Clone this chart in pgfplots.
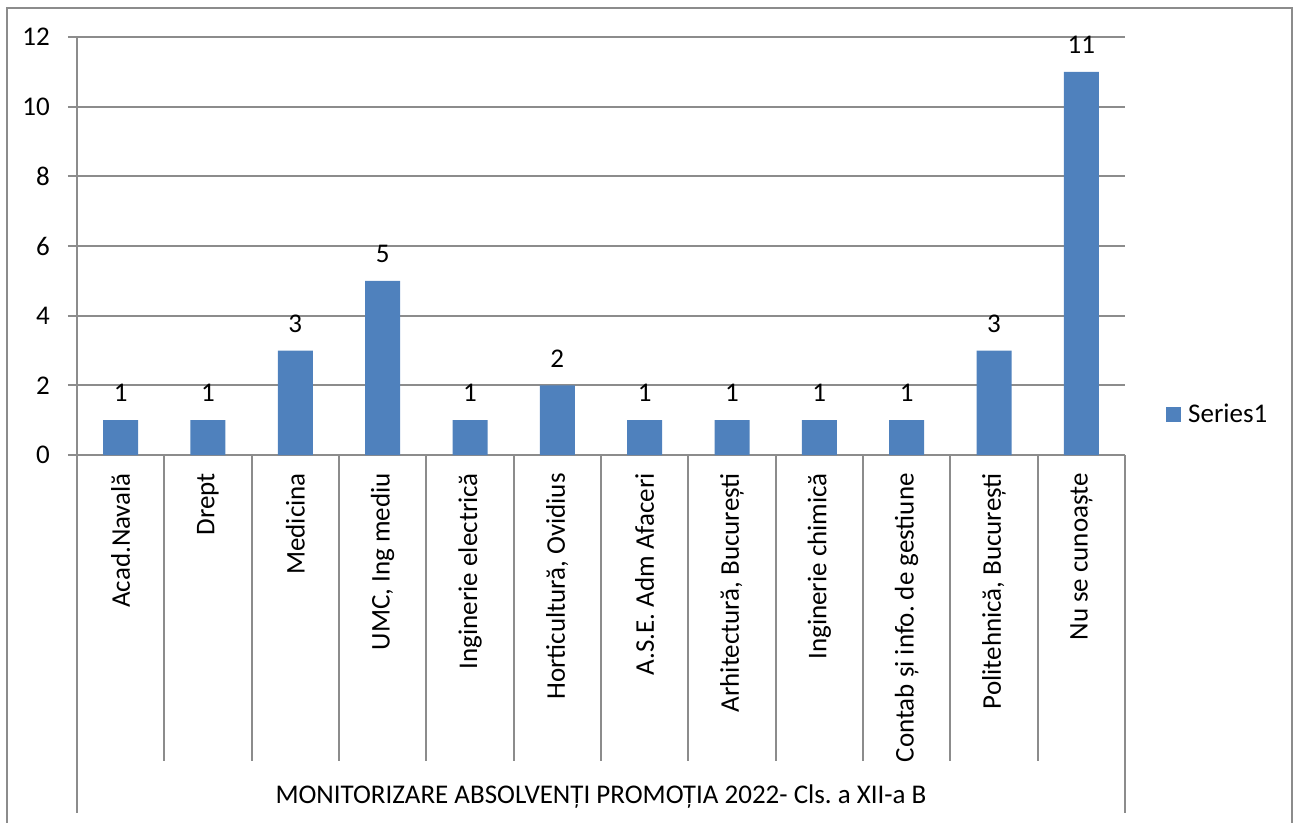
\documentclass[border=0pt]{standalone}
\usepackage{pgfplots}
\pgfplotsset{compat=1.18}
\usepackage{fontspec}
\setmainfont{Carlito}
\definecolor{barblue}{HTML}{4F81BD}
\definecolor{linegray}{RGB}{140,140,140}

\begin{document}
\frenchspacing
\begin{tikzpicture}[font=\fontsize{27bp}{32bp}\selectfont]
\begin{axis}[
  name=ax, at={(0,0)}, anchor=south west,
  scale only axis, width=1048bp, height=418bp,
  xmin=-0.5, xmax=11.5, ymin=0, ymax=12,
  ytick={0,2,...,12},
  xtick={0,...,11},
  xticklabels={Acad.Navală, Drept, Medicina, {UMC, Ing mediu}, Inginerie electrică,
    {Horticultură, Ovidius}, A.S.E. Adm Afaceri, {Arhitectură, București},
    Inginerie chimică, Contab și info. de gestiune, {Politehnică, București}, Nu se cunoaște},
  axis x line*=bottom, axis y line*=left,
  axis line style={linegray, line width=1.8bp, -},
  ymajorgrids, grid style={linegray, line width=1.8bp},
  tick align=outside, major tick length=9bp,
  xtick style={draw=none},
  ytick style={linegray, line width=1.8bp},
  yticklabel style={anchor=east, inner sep=0pt, xshift=-18bp},
  xticklabel style={rotate=90, anchor=east, inner sep=0pt},
  xticklabel shift=9bp,
  /pgf/number format/assume math mode=true,
  ybar, bar width=35bp,
  nodes near coords,
  every node near coord/.append style={anchor=center, yshift=27bp},
  clip=false,
  legend style={at={(axis description cs:1.0391,0.098)}, anchor=west,
    draw=none, fill=none, inner sep=0pt, nodes={inner sep=0pt}},
  legend image code/.code={\fill[barblue] (0bp,-7.5bp) rectangle (15bp,7.5bp); \path (22bp,0);},
]
\addplot[fill=barblue, draw=none] coordinates {
  (0,1) (1,1) (2,3) (3,5) (4,1) (5,2) (6,1) (7,1) (8,1) (9,1) (10,3) (11,11)
};
\addlegendentry{Series1}
\end{axis}

% category separators
\foreach \k in {0,...,12}
  \draw[linegray, line width=1.8bp] ([xshift=\k*87.3333bp]ax.south west) -- ++(0,-306bp);
\draw[linegray, line width=1.8bp] (ax.south west) -- ++(0,-358bp);
\draw[linegray, line width=1.8bp] (ax.south east) -- ++(0,-358bp);
\node at ([yshift=-342bp]ax.south) {MONITORIZARE ABSOLVENȚI PROMOȚIA 2022- Cls. a XII-a B};

\pgfresetboundingbox
\path[use as bounding box] (ax.south west) ++(-77bp,-368bp) rectangle ++(1298bp,823bp);
% outer frame
\draw[linegray, line width=1.8bp] ([shift={(-70bp,-380bp)}]ax.south west) -- ++(0,827bp) -- ++(1285bp,0) -- ++(0,-827bp);
\end{tikzpicture}
\end{document}
